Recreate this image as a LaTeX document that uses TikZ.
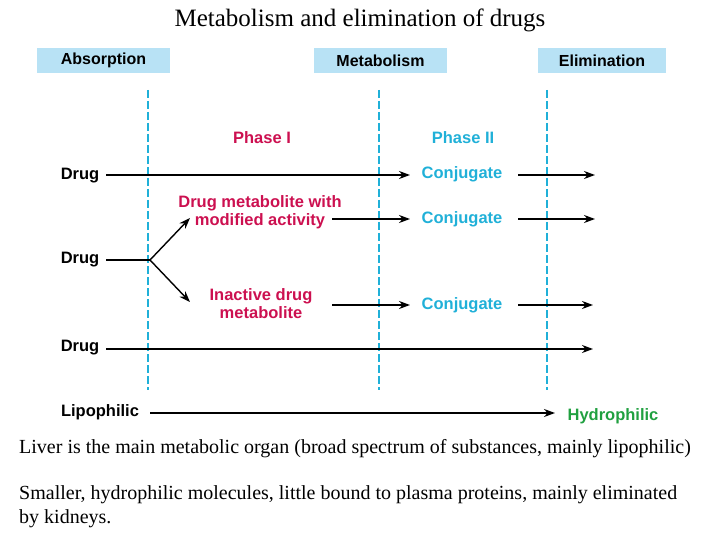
\documentclass[tikz,border=0pt]{standalone}
\usepackage{fontspec}
\setmainfont{Liberation Serif}
\newfontfamily\arial{Liberation Sans}
\usetikzlibrary{arrows.meta}
\definecolor{hdr}{HTML}{B8E2F5}
\definecolor{dashc}{HTML}{20B0D8}
\definecolor{red1}{HTML}{CC1050}
\definecolor{cy}{HTML}{20B0D8}
\definecolor{grn}{HTML}{20A040}
\begin{document}
\begin{tikzpicture}[x=1pt,y=-1pt,
  hbox/.style={fill=hdr,minimum width=133pt,minimum height=25pt,inner sep=0pt,font=\arial\bfseries\fontsize{16}{18}\selectfont},
  lbl/.style={font=\arial\bfseries\fontsize{16.5}{18}\selectfont,inner sep=1pt},
  rl/.style={lbl,text=red1,align=center,font=\arial\bfseries\fontsize{16.5}{18}\selectfont},
  cl/.style={lbl,text=cy},
  arr/.style={line width=1.8pt,-{Stealth[length=11pt,width=8pt]}},
  vline/.style={draw=dashc,line width=1.2pt,dash pattern=on 8pt off 3pt},
  body/.style={font=\fontsize{20}{24}\selectfont,anchor=west,inner sep=0pt}]
\useasboundingbox (0,0) rectangle (720,540);
\node[font=\fontsize{25}{28}\selectfont] (title) at (360,20) {Metabolism and elimination of drugs};
\node[hbox] (abs) at (103.5,60.5) {Absorption};
\node[hbox] (met) at (380.5,60.5) {Metabolism};
\node[hbox,minimum width=128pt] (eli) at (602,60.5) {Elimination};
\coordinate (d1t) at (148,90); \coordinate (d1b) at (148,390);
\coordinate (d2t) at (379,90); \coordinate (d2b) at (379,390);
\coordinate (d3t) at (547,90); \coordinate (d3b) at (547,390);
\draw[vline] (d1t) -- (d1b); \draw[vline] (d2t) -- (d2b); \draw[vline] (d3t) -- (d3b);
\node[rl] (p1) at (262,138) {Phase I};
\node[cl] (p2) at (463,138) {Phase II};
\node[lbl] (dr1) at (80,176) {Drug};
\node[cl] (c1) at (462,174) {Conjugate};
\coordinate (s1) at (106,175); \coordinate (t1a) at (410,175);
\coordinate (s1b) at (518,175); \coordinate (e1) at (595,175);
\node[rl] (m1) at (260,212) {Drug metabolite with\\modified activity};
\node[cl] (c2) at (462,219) {Conjugate};
\coordinate (s2) at (332,219); \coordinate (t2) at (410,219);
\coordinate (s2b) at (518,219); \coordinate (e2) at (595,219);
\node[lbl] (dr2) at (80,260) {Drug};
\coordinate (s0) at (106,260); \coordinate (br) at (150,260);
\coordinate (u) at (190,218); \coordinate (l) at (190,302);
\node[rl] (m2) at (261,304) {Inactive drug\\metabolite};
\node[cl] (c3) at (462,305) {Conjugate};
\coordinate (s3) at (332,305); \coordinate (t3) at (410,305);
\coordinate (s3b) at (518,305); \coordinate (e3) at (593,305);
\node[lbl] (dr3) at (80,348) {Drug};
\coordinate (s4) at (106,349); \coordinate (e4) at (593,349);
\node[lbl] (lip) at (100,412) {Lipophilic};
\node[lbl,text=grn] (hyd) at (613,416) {Hydrophilic};
\coordinate (s5) at (150,413); \coordinate (e5) at (555,413);
\draw[arr] (s1) -- (t1a);
\draw[arr] (s1b) -- (e1);
\draw[arr] (s2) -- (t2);
\draw[arr] (s2b) -- (e2);
\draw[line width=1.8pt] (s0) -- (br);
\draw[arr,line width=1.4pt] (br) -- (u);
\draw[arr,line width=1.4pt] (br) -- (l);
\draw[arr] (s3) -- (t3);
\draw[arr] (s3b) -- (e3);
\draw[arr] (s4) -- (e4);
\draw[arr] (s5) -- (e5);
\node[body] (t1) at (19,449) {Liver is the main metabolic organ (broad spectrum of substances, mainly lipophilic)};
\node[body,align=left,anchor=north west] (t2) at (19,485) {Smaller, hydrophilic molecules, little bound to plasma proteins, mainly eliminated\\by kidneys.};
\end{tikzpicture}
\end{document}
